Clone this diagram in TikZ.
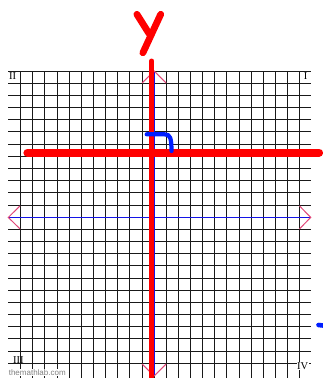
\documentclass[tikz,border=0pt]{standalone}
\usepackage{fontspec}
\usetikzlibrary{calc}
\setmainfont{Liberation Serif}
\newfontfamily\wmfont{Liberation Sans}
\definecolor{penred}{RGB}{255,0,0}
\definecolor{axisblue}{RGB}{20,20,230}
\definecolor{penblue}{RGB}{0,30,255}
\definecolor{arrowpink}{RGB}{225,70,120}
\begin{document}
\begin{tikzpicture}[x=1pt,y=-1pt,
  gridline/.style={draw=black!90,line width=0.95pt},
  axisline/.style={draw=axisblue,line width=1.6pt},
  arrowv/.style={draw=arrowpink,line width=1pt},
  redpen/.style={draw=penred,line width=#1,line cap=round,line join=round},
  bluepen/.style={draw=penblue,line width=#1,line cap=round,line join=round},
  quadlabel/.style={inner sep=0.5pt,font=\fontsize{10.5}{11}\selectfont},
  watermark/.style={inner sep=0.3pt,text=black!50,font=\wmfont\fontsize{8}{9}\selectfont}]
\useasboundingbox (0,0) rectangle (323,378);
\fill[white] (0,0) rectangle (323,378);
% grid
\foreach \k in {0,...,23} {
  \draw[gridline] ({20.7+12.13*\k},71) -- ({20.7+12.13*\k},378);
}
\foreach \k in {0,...,24} {
  \draw[gridline] (8.3,{71+12.18*\k}) -- (310.7,{71+12.18*\k});
}
% coordinates for axes
\coordinate (xl) at (8.3,217.4);
\coordinate (xr) at (310.7,217.4);
\coordinate (yt) at (154.1,71);
\coordinate (yb) at (154.1,376);
% blue axes
\draw[axisline] (xl) -- (xr);
\draw[axisline] (yt) -- (yb);
% pink open arrowheads
\draw[arrowv] ($(xl)+(11.7,-11.5)$) -- (xl) -- ($(xl)+(11.7,11.5)$);
\draw[arrowv] ($(xr)+(-11.2,-11.5)$) -- (xr) -- ($(xr)+(-11.2,11.5)$);
\draw[arrowv] ($(yt)+(-12,12)$) -- (yt) -- ($(yt)+(12,12)$);
\draw[arrowv] ($(yb)+(-12,-12)$) -- (yb) -- ($(yb)+(12,-12)$);
% quadrant labels
\node[quadlabel,fill=white,anchor=north west] (q2) at (8.5,71.8) {II};
\node[quadlabel,anchor=north east] (q1) at (308,71.8) {I};
\node[quadlabel,anchor=south west] (q3) at (12.5,364) {III};
\node[quadlabel,fill=white,anchor=north east] (q4) at (309,361.5) {IV};
\node[watermark,fill=white,anchor=south west] (wm) at (8.3,376) {themathlab.com};
% red pen strokes
\draw[redpen=5pt] (151.6,61) -- (151.6,380);
\draw[redpen=8.2pt] (27.5,152.6) -- (319,152.6);
\draw[redpen=6.8pt] (136.9,14.3) -- (149,33.5);
\draw[redpen=6.8pt] (160.7,14.3) -- (142.9,52.8);
% blue pen strokes
\draw[bluepen=4.2pt] (146.7,134.3) -- (164.5,134.3)
  .. controls (170.5,134.3) and (171.2,138) .. (171.6,151);
\draw[bluepen=4.6pt] (318.5,325) -- (324,325.6);
\end{tikzpicture}
\end{document}
